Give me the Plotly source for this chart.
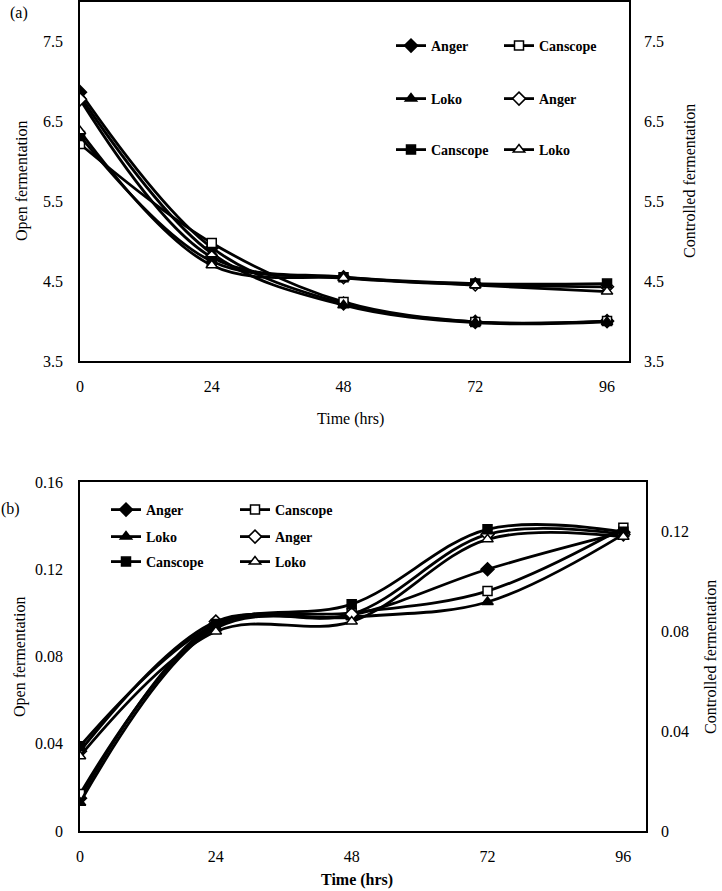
import plotly.graph_objects as go

# ---------------- data ----------------
time_hrs = [0, 24, 48, 72, 96]
x_tick_vals = [0, 24, 48, 72, 96]

# Panel (a)
a_anger_open = [6.87, 4.92, 4.22, 3.99, 4.00]
a_canscope_open = [6.22, 4.98, 4.24, 3.99, 4.00]
a_loko_open = [6.82, 4.85, 4.20, 3.98, 3.99]
a_anger_ctrl = [6.78, 4.80, 4.55, 4.46, 4.43]
a_canscope_ctrl = [6.32, 4.75, 4.55, 4.47, 4.47]
a_loko_ctrl = [6.38, 4.70, 4.54, 4.45, 4.37]
a_y_ticks = [3.5, 4.5, 5.5, 6.5, 7.5]
a_y_ticktext = ["3.5", "4.5", "5.5", "6.5", "7.5"]

# Panel (b)
b_anger_open = [0.015, 0.095, 0.099, 0.120, 0.137]
b_canscope_open = [0.017, 0.094, 0.100, 0.110, 0.139]
b_loko_open = [0.013, 0.093, 0.098, 0.105, 0.136]
b_anger_ctrl = [0.032, 0.084, 0.087, 0.119, 0.119]
b_canscope_ctrl = [0.034, 0.083, 0.091, 0.121, 0.120]
b_loko_ctrl = [0.030, 0.080, 0.084, 0.117, 0.118]
b_left_ticks = [0, 0.04, 0.08, 0.12, 0.16]
b_left_ticktext = ["0", "0.04", "0.08", "0.12", "0.16"]
b_right_ticks = [0, 0.04, 0.08, 0.12]
b_right_ticktext = ["0", "0.04", "0.08", "0.12"]

W, H = 722, 891
SERIF = "Liberation Serif"


def px_x(p):
    return p / W


def px_y(p):
    return 1 - p / H


styles = [
    ("Anger", "diamond", "black", 10),
    ("Canscope", "square", "white", 9),
    ("Loko", "triangle-up", "black", 10),
    ("Anger", "diamond", "white", 10),
    ("Canscope", "square", "black", 9),
    ("Loko", "triangle-up", "white", 10),
]

fig = go.Figure()

panel_a = [a_anger_open, a_canscope_open, a_loko_open, a_anger_ctrl, a_canscope_ctrl, a_loko_ctrl]
panel_b = [b_anger_open, b_canscope_open, b_loko_open, b_anger_ctrl, b_canscope_ctrl, b_loko_ctrl]

legend_rows_a = ["legend", "legend", "legend2", "legend2", "legend3", "legend3"]
legend_rows_b = ["legend4", "legend4", "legend5", "legend5", "legend6", "legend6"]

for i, vals in enumerate(panel_a):
    name, sym, fill, size = styles[i]
    fig.add_trace(go.Scatter(
        x=time_hrs, y=vals, name=name, mode="lines+markers",
        line=dict(color="black", width=2.8, shape="spline", smoothing=1),
        marker=dict(symbol=sym, color=fill, size=size, line=dict(color="black", width=1.5)),
        xaxis="x", yaxis="y" if i < 3 else "y2",
        legend=legend_rows_a[i],
    ))

for i, vals in enumerate(panel_b):
    name, sym, fill, size = styles[i]
    fig.add_trace(go.Scatter(
        x=time_hrs, y=vals, name=name, mode="lines+markers",
        line=dict(color="black", width=2.8, shape="spline", smoothing=1),
        marker=dict(symbol=sym, color=fill, size=size, line=dict(color="black", width=1.5)),
        xaxis="x3", yaxis="y3" if i < 3 else "y4",
        legend=legend_rows_b[i],
    ))

tickfont = dict(family=SERIF, size=16, color="black")

xa_common = dict(range=[0, 100], tickvals=x_tick_vals, ticktext=[str(v) for v in x_tick_vals],
                 showgrid=False, zeroline=False, showline=True, linecolor="black", linewidth=1.5,
                 mirror=True, ticks="", tickfont=tickfont, ticklabelstandoff=10, automargin=False)

fig.update_layout(
    width=W, height=H,
    margin=dict(l=0, r=0, t=0, b=0, autoexpand=False),
    paper_bgcolor="white", plot_bgcolor="white",
    font=dict(family=SERIF, color="black"),
    xaxis=dict(domain=[px_x(80), px_x(629)], anchor="y", **xa_common),
    yaxis=dict(domain=[px_y(361), px_y(2)], range=[3.5, 8], tickvals=a_y_ticks, ticktext=a_y_ticktext,
               showgrid=False, zeroline=False, showline=True, linecolor="black", linewidth=1.5,
               mirror=True, ticks="", tickfont=tickfont, ticklabelstandoff=12, automargin=False),
    yaxis2=dict(overlaying="y", side="right", anchor="x", range=[3.5, 8], tickvals=a_y_ticks,
                ticktext=a_y_ticktext, showgrid=False, zeroline=False, showline=False, ticks="",
                tickfont=tickfont, ticklabelstandoff=14, automargin=False),
    xaxis3=dict(domain=[px_x(80), px_x(646)], anchor="y3", **xa_common),
    yaxis3=dict(domain=[px_y(831), px_y(482)], anchor="x3", range=[0, 0.16], tickvals=b_left_ticks,
                ticktext=b_left_ticktext, showgrid=False, zeroline=False, showline=True,
                linecolor="black", linewidth=1.5, mirror=True, ticks="", tickfont=tickfont,
                ticklabelstandoff=12, automargin=False),
    yaxis4=dict(overlaying="y3", side="right", anchor="x3", range=[0, 0.14], tickvals=b_right_ticks,
                ticktext=b_right_ticktext, showgrid=False, zeroline=False, showline=False, ticks="",
                tickfont=tickfont, ticklabelstandoff=14, automargin=False),
)

legfont = dict(family=SERIF, size=14, color="black", weight="bold")
leg_common = dict(orientation="h", entrywidth=63, entrywidthmode="pixels", itemwidth=30,
                  font=legfont, bgcolor="rgba(0,0,0,0)", xanchor="left", yanchor="middle",
                  traceorder="normal", itemclick=False, itemdoubleclick=False)
fig.update_layout(
    legend=dict(x=px_x(391), y=px_y(46), **leg_common),
    legend2=dict(x=px_x(391), y=px_y(99), **leg_common),
    legend3=dict(x=px_x(391), y=px_y(150), **leg_common),
)
leg_common_b = dict(leg_common, entrywidth=84)
fig.update_layout(
    legend4=dict(x=px_x(106), y=px_y(510), **leg_common_b),
    legend5=dict(x=px_x(106), y=px_y(537), **leg_common_b),
    legend6=dict(x=px_x(106), y=px_y(562), **leg_common_b),
)

title_font = dict(family=SERIF, size=16, color="black")
annots = [
    dict(text="(a)", x=px_x(19), y=px_y(13)),
    dict(text="(b)", x=px_x(10), y=px_y(509)),
    dict(text="Open fermentation", x=px_x(22), y=px_y(181), textangle=-90),
    dict(text="Controlled fermentation", x=px_x(690), y=px_y(181), textangle=-90),
    dict(text="Time (hrs)", x=px_x(350), y=px_y(419)),
    dict(text="Open fermentation", x=px_x(20), y=px_y(657), textangle=-90),
    dict(text="Controlled fermentation", x=px_x(710), y=px_y(657), textangle=-90),
    dict(text="<b>Time (hrs)</b>", x=px_x(357), y=px_y(880)),
]
for a in annots:
    fig.add_annotation(xref="paper", yref="paper", showarrow=False, font=title_font,
                       xanchor="center", yanchor="middle", **a)

fig.write_html("out.html", config={"displayModeBar": False},
               post_script="document.body.style.margin='0';document.body.style.overflow='hidden';")
